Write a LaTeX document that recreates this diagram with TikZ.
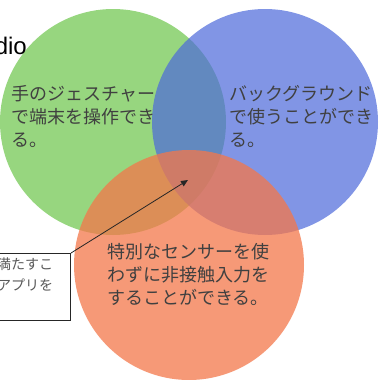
\documentclass[tikz,border=0pt]{standalone}
\usepackage{fontspec}
\setmainfont{Liberation Sans}
\newfontfamily\jp{Noto Sans CJK JP}
\usetikzlibrary{arrows.meta}
\definecolor{vgreen}{RGB}{108,198,74}
\definecolor{vblue}{RGB}{76,105,219}
\definecolor{vorange}{RGB}{244,119,74}
\definecolor{vtext}{RGB}{64,64,64}
\definecolor{btext}{RGB}{89,89,89}
\tikzset{
  venn/.style={circle, inner sep=0pt, minimum size=#1, draw=none, fill opacity=0.7},
  venntext/.style={anchor=north west, inner sep=0pt, align=left, text=vtext,
    font={\jp\fontsize{18pt}{23pt}\selectfont}},
  boxtext/.style={anchor=north west, inner sep=0pt, align=left, text=btext,
    font={\jp\fontsize{14pt}{21pt}\selectfont}},
  callout/.style={draw=black!85, line width=0.9pt, fill=white, inner sep=0pt},
  pointer/.style={draw=black!85, line width=0.8pt, -{Triangle[length=7pt,width=6pt]}}
}
\begin{document}
\begin{tikzpicture}[x=1pt,y=-1pt]
\useasboundingbox (0,0) rectangle (379,380);
\clip (0,0) rectangle (379,380);
\fill[white] (0,0) rectangle (379,380);
\node[venn=226pt, fill=vgreen] (cg) at (113,122) {};
\node[venn=226pt, fill=vblue] (cb) at (265,122) {};
\node[venn=230pt, fill=vorange, fill opacity=0.75] (co) at (189,265) {};
\node[anchor=base east, inner sep=0pt, font={\fontsize{24pt}{28pt}\selectfont}] (title) at (27,54) {dio};
\node[venntext] (tg) at (11,85) {手のジェスチャー\\で端末を操作でき\\る。};
\node[venntext] (tb) at (229,85) {バックグラウンド\\で使うことができ\\る。};
\node[venntext] (to) at (107,243) {特別なセンサーを使\\わずに非接触入力を\\することができる。};
\node[callout, minimum width=80pt, minimum height=67pt, anchor=north east] (box) at (71,253) {};
\node[boxtext] (bt) at (-3,258) {満たすこ\\アプリを};
\coordinate (tip) at (188,180);
\draw[pointer] (box.north east) -- (tip);
\end{tikzpicture}
\end{document}
